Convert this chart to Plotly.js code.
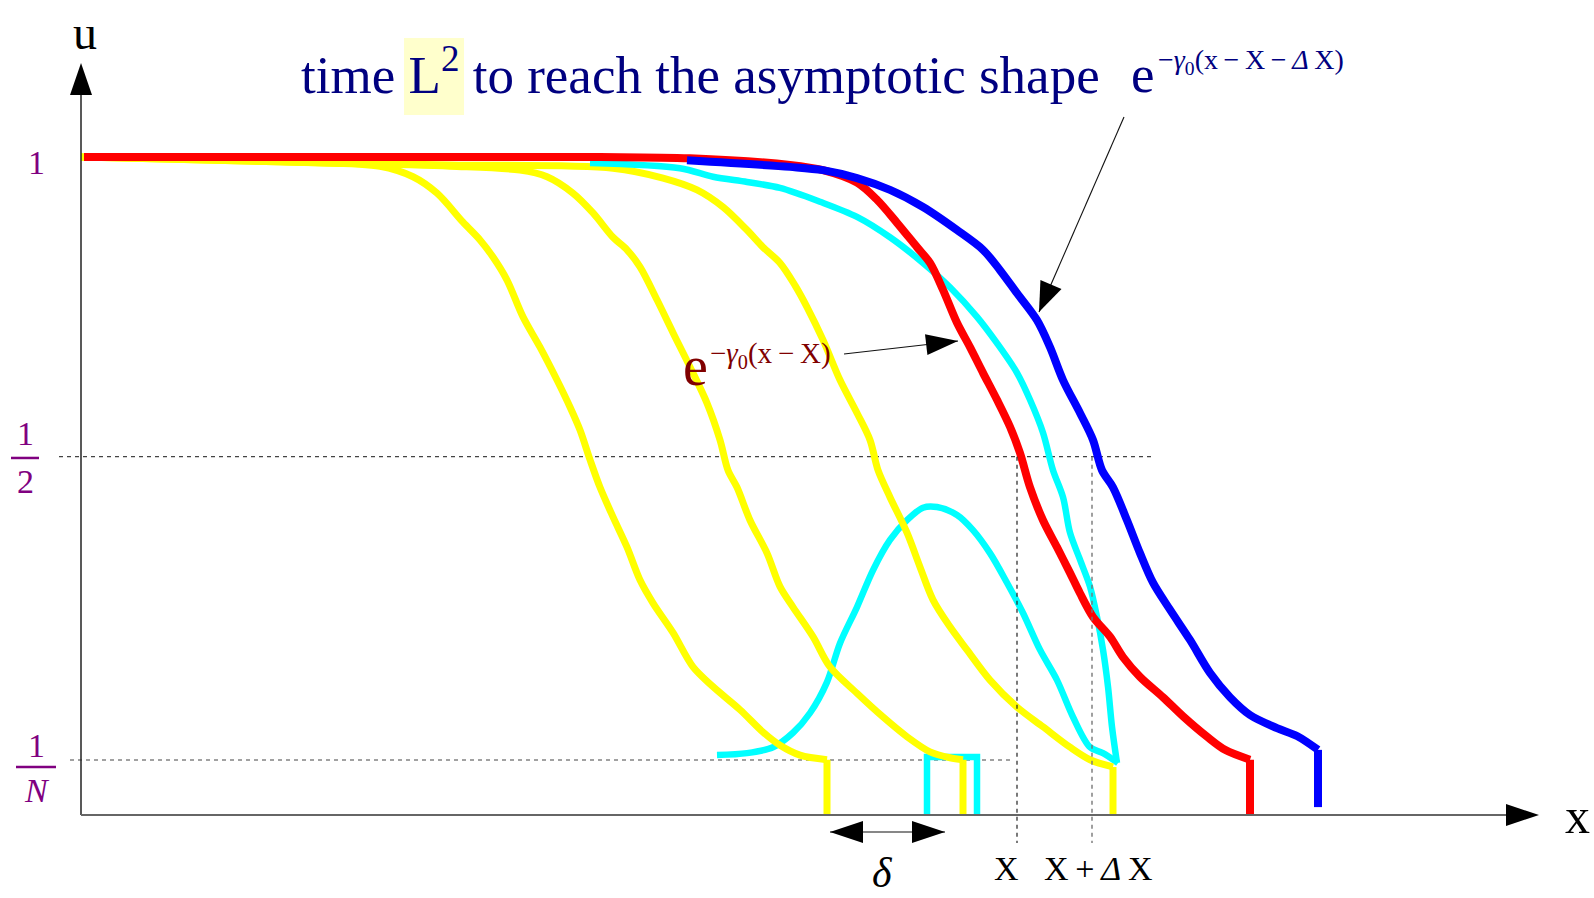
<!DOCTYPE html>
<html>
<head>
<meta charset="utf-8">
<script src="https://cdn.plot.ly/plotly-3.0.1.min.js"></script>
<style>
  html, body { margin: 0; padding: 0; background: #fff; }
  #chart { width: 1594px; height: 898px; }
</style>
</head>
<body>
<div id="chart"></div>
<script>
// Travelling-front profiles u(x): u = 1 behind the front, cut off at u = 1/N ahead of it.

// Early fronts (yellow), successive times
const frontEarlyX = [0,119,219,299,332,356,382,399,412,426,442,459,476,489,499,509,519,532,546,559,572,592,612,632,659,682,699,719,746,746];
const frontEarlyU = [1.000,0.997,0.992,0.986,0.970,0.945,0.901,0.874,0.848,0.813,0.757,0.711,0.661,0.620,0.585,0.540,0.498,0.453,0.407,0.357,0.322,0.277,0.225,0.195,0.160,0.126,0.106,0.091,0.084,0];

const frontMidX = [0,219,369,439,466,492,512,532,546,559,576,592,609,626,639,647,656,669,686,699,712,732,749,776,802,826,849,869,882,882];
const frontMidU = [1.000,0.992,0.986,0.980,0.970,0.945,0.915,0.878,0.859,0.833,0.783,0.733,0.681,0.626,0.570,0.524,0.498,0.448,0.398,0.347,0.316,0.271,0.225,0.185,0.149,0.119,0.096,0.087,0.084,0];

const frontLateX = [0,219,369,532,582,616,642,666,682,699,714,726,742,759,776,789,797,809,826,839,852,869,886,909,936,962,989,1009,1032,1032];
const frontLateU = [1.000,0.992,0.988,0.983,0.968,0.950,0.924,0.889,0.863,0.839,0.805,0.772,0.722,0.661,0.611,0.570,0.524,0.483,0.429,0.377,0.327,0.286,0.251,0.205,0.164,0.134,0.103,0.084,0.073,0];

// Cyan: a fluctuation bump ahead of the front, its cut-off step, and the deformed front
const bumpX = [636,666,692,712,729,746,759,776,792,809,826,842,856,876,892,909,926,942,959,976,992,1009,1022,1037];
const bumpU = [0.091,0.094,0.103,0.125,0.155,0.202,0.261,0.316,0.372,0.418,0.448,0.467,0.468,0.456,0.433,0.398,0.353,0.307,0.251,0.205,0.149,0.103,0.094,0.079];

const stepX = [846,846,896,896];
const stepU = [0,0.088,0.088,0];

const shapedX = [509,599,632,666,699,739,776,809,842,869,896,916,936,949,962,972,982,989,999,1009,1016,1022,1027,1031,1036];
const shapedU = [0.991,0.983,0.970,0.962,0.953,0.932,0.909,0.878,0.839,0.802,0.757,0.717,0.672,0.631,0.581,0.524,0.483,0.429,0.388,0.347,0.301,0.251,0.195,0.134,0.079];

// Red: front at position X ; Blue: front relaxed to X + ΔX
const frontAtX_X = [3,519,609,709,742,776,796,816,836,849,862,876,889,902,916,929,939,949,962,976,989,999,1012,1029,1042,1059,1082,1102,1126,1144,1169,1169];
const frontAtX_U = [1.000,1.000,0.998,0.988,0.980,0.961,0.935,0.900,0.863,0.839,0.798,0.748,0.711,0.672,0.631,0.590,0.550,0.498,0.448,0.407,0.368,0.337,0.301,0.271,0.240,0.210,0.179,0.150,0.119,0.099,0.084,0];

const frontShiftX = [606,709,742,776,809,842,876,902,919,936,956,969,982,999,1012,1021,1032,1046,1059,1072,1089,1109,1129,1149,1169,1196,1216,1237,1237];
const frontShiftU = [0.995,0.985,0.980,0.968,0.950,0.924,0.889,0.859,0.828,0.793,0.752,0.711,0.661,0.611,0.570,0.524,0.498,0.448,0.398,0.353,0.312,0.266,0.216,0.179,0.152,0.132,0.120,0.099,0.012];

// Reference levels and positions
const uLevels = [1, 0.5445, 0.0836];          // 1, 1/2, 1/N
const posX = 936, posXdX = 1011;              // X and X+ΔX
const deltaFrom = 749, deltaTo = 864;         // width δ

// Figure geometry
const W = 1594, H = 898;
const xRange = [-81, 1513];
const uRange = [-0.12614, 1.23860];
const pxX = W / (xRange[1] - xRange[0]);
const pxU = H / (uRange[1] - uRange[0]);

const SERIF = 'Liberation Serif, Times New Roman, serif';

function curve(xs, us, color, width, smooth) {
  return { x: xs, y: us, type: 'scatter', mode: 'lines', hoverinfo: 'skip', showlegend: false,
           line: smooth ? { color: color, width: width, shape: 'spline', smoothing: 0.9 }
                        : { color: color, width: width } };
}
// smooth body of a profile plus its vertical cut-off drop to the axis
function profile(xs, us, color, width) {
  return [curve(xs.slice(0, -1), us.slice(0, -1), color, width, true),
          curve(xs.slice(-2), us.slice(-2), color, width, false)];
}

const traces = [
  curve(bumpX, bumpU, '#00ffff', 6.5, true),
  curve(stepX, stepU, '#00ffff', 6.5, false),
  ...profile(frontEarlyX, frontEarlyU, '#ffff00', 7),
  ...profile(frontMidX, frontMidU, '#ffff00', 7),
  ...profile(frontLateX, frontLateU, '#ffff00', 7),
  curve(shapedX, shapedU, '#00ffff', 6.5, true),
  ...profile(frontAtX_X, frontAtX_U, '#ff0000', 8),
  ...profile(frontShiftX, frontShiftU, '#0000ff', 8)
];

// Filled triangular arrow head; len / half given in screen pixels
function head(tip, from, len, half) {
  const dx = (tip[0] - from[0]) * pxX, dy = -(tip[1] - from[1]) * pxU;
  const L = Math.hypot(dx, dy), ex = dx / L, ey = dy / L;
  const bx = -ex * len, by = -ey * len, qx = -ey * half, qy = ex * half;
  const d = (ox, oy) => [tip[0] + ox / pxX, tip[1] - oy / pxU];
  const a = d(bx + qx, by + qy), b = d(bx - qx, by - qy);
  return { type: 'path', xref: 'x', yref: 'y', layer: 'above',
           path: `M${tip[0]},${tip[1]} L${a[0]},${a[1]} L${b[0]},${b[1]} Z`,
           fillcolor: '#000', line: { width: 0 } };
}
function seg(x0, y0, x1, y1, color, width, dash, layer) {
  return { type: 'line', xref: 'x', yref: 'y', x0: x0, y0: y0, x1: x1, y1: y1,
           layer: layer || 'above', line: { color: color, width: width, dash: dash || 'solid' } };
}

const uTop = 1.0942, uTip = 1.1429, xEnd = 1425, xTip = 1458;
const expBlueFrom = [1043, 1.0608], expBlueTip = [958, 0.7644];
const expRedFrom = [763, 0.7006], expRedTip = [877, 0.7204];
const deltaU = -0.0258;

const shapes = [
  // highlight behind L²
  { type: 'rect', xref: 'x', yref: 'y', x0: 323, x1: 383, y0: 1.0638, y1: 1.1809,
    fillcolor: '#ffffcc', line: { width: 0 }, layer: 'below' },
  // reference levels
  seg(-22, uLevels[1], 1071, uLevels[1], '#444', 1.2, '4px,4px', 'below'),
  seg(-11, uLevels[2], 932, uLevels[2], '#444', 1.2, '4px,4px', 'below'),
  seg(posX, uLevels[1], posX, -0.0426, '#222', 1.2, '4px,4px', 'above'),
  seg(posXdX, uLevels[1], posXdX, -0.0426, '#777', 1.4, '4px,4px', 'above'),
  // axes
  seg(0, 0, 0, uTop, '#222', 1.5),
  seg(0, 0, xEnd, 0, '#666', 2),
  head([0, uTip], [0, 0], 32, 11),
  head([xTip, 0], [0, 0], 33, 11),
  // pointers to the exponential tails
  seg(expBlueFrom[0], expBlueFrom[1], expBlueTip[0], expBlueTip[1], '#111', 1.1),
  head(expBlueTip, expBlueFrom, 30, 11.5),
  seg(expRedFrom[0], expRedFrom[1], expRedTip[0], expRedTip[1], '#111', 1.1),
  head(expRedTip, expRedFrom, 32, 10.5),
  // width δ
  seg(deltaFrom, deltaU, deltaTo, deltaU, '#111', 1.1),
  head([deltaFrom, deltaU], [deltaTo, deltaU], 33, 11),
  head([deltaTo, deltaU], [deltaFrom, deltaU], 33, 11),
  // fraction bars for 1/2 and 1/N
  seg(-70, 0.5426, -42, 0.5426, '#800080', 2.5),
  seg(-65, 0.0729, -25, 0.0729, '#800080', 2.5)
];

function label(text, x, y, size, color, anchor) {
  return { text: text, x: x, y: y, xref: 'x', yref: 'y', showarrow: false,
           xanchor: anchor || 'center', yanchor: 'middle',
           font: { family: SERIF, size: size, color: color } };
}

const annotations = [
  label('u', 4, 1.1885, 48, '#000'),
  label('x', 1496, -0.0015, 50, '#000'),
  label('1', -45, 0.9916, 34, '#800080'),
  label('1', -56, 0.5798, 34, '#800080'),
  label('2', -56, 0.5068, 34, '#800080'),
  label('1', -45, 0.1056, 34, '#800080'),
  label('<i>N</i>', -44, 0.0372, 34, '#800080'),
  label('<i>δ</i>', 801, -0.0880, 42, '#000'),
  label('X', 925, -0.0813, 34, '#000'),
  label('X\u2009+\u2009<i>Δ</i>\u2009X', 1017, -0.0813, 34, '#000'),
  label('e', 1048, 1.1260, 53, '#000080', 'left'),
  label('−<i>γ</i><sub>0</sub>(x\u2009−\u2009X\u2009−\u2009<i>Δ</i>\u2009X)', 1075, 1.1447, 28, '#000080', 'left'),
  label('e', 600, 0.6822, 56, '#800000', 'left'),
  label('−<i>γ</i><sub>0</sub>(x\u2009−\u2009X)', 627, 0.6990, 29, '#800000', 'left')
];

const layout = {
  width: W, height: H, autosize: false,
  margin: { l: 0, r: 0, t: 0, b: 0, pad: 0 },
  paper_bgcolor: '#fff', plot_bgcolor: '#fff',
  title: {
    text: 'time L<sup>2</sup> to reach the asymptotic shape',
    font: { family: SERIF, size: 53, color: '#000080' },
    xref: 'container', yref: 'container',
    x: 0.1889, xanchor: 'left', y: 0.8964, yanchor: 'bottom'
  },
  xaxis: { range: xRange, visible: false, fixedrange: true },
  yaxis: { range: uRange, visible: false, fixedrange: true },
  shapes: shapes,
  annotations: annotations,
  showlegend: false
};

Plotly.newPlot('chart', traces, layout, { staticPlot: true, displayModeBar: false });
</script>
</body>
</html>
